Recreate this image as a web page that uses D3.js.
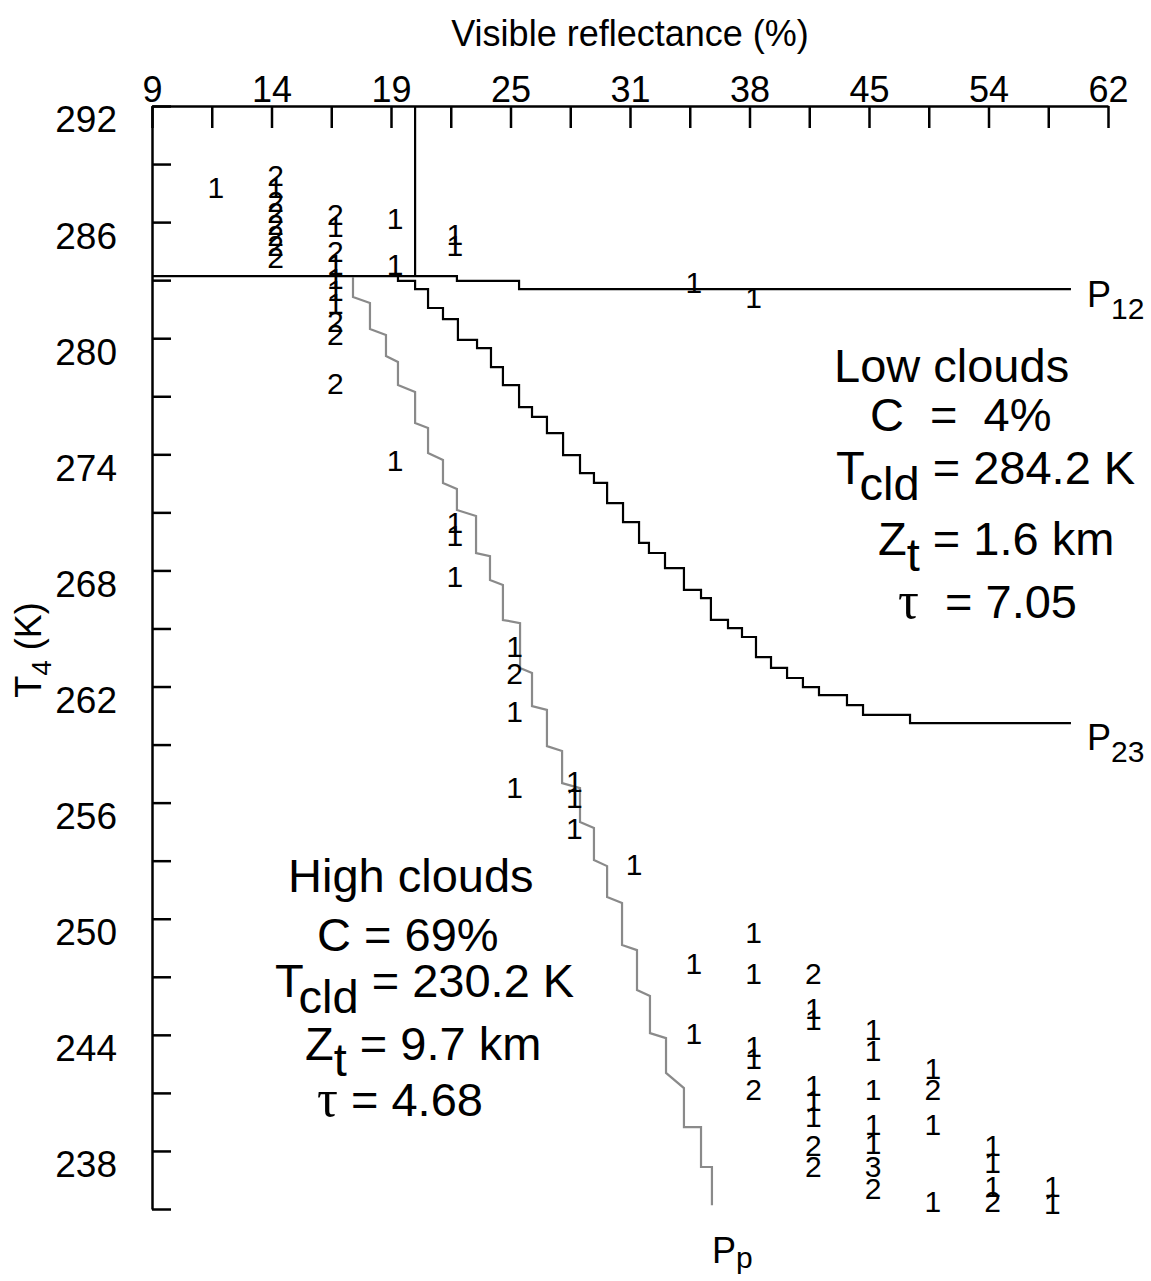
<!DOCTYPE html>
<html><head><meta charset="utf-8">
<script src="https://cdn.jsdelivr.net/npm/d3@7"></script>
<style>
html,body{margin:0;padding:0;background:#fff;}
svg{display:block;font-family:"Liberation Sans",Arial,Helvetica,sans-serif;}
</style></head><body>
<svg id="chart" width="1151" height="1281"></svg>
<script>
// ---- axis ticks ----
const reflTicks = [9, 14, 19, 25, 31, 38, 45, 54, 62];
const reflMinor = [11.5, 16.5, 22, 28, 34.5, 41.5, 49.5, 58];
const tempMajor = [292, 286, 280, 274, 268, 262, 256, 250, 244, 238];
const tempMinor = [289, 283, 277, 271, 265, 259, 253, 247, 241, 235];

// ---- count labels (reflectance %, T4 K, count) ----
const cntRefl = [11.5,
  14,14,14,14,14,14,14,14,
  16.5,16.5,16.5,16.5,16.5,16.5,16.5,16.5,16.5,16.5,
  19,19,19,
  22,22,22,22,22,
  25,25,25,25,
  28,28,28,
  31,
  34.5,34.5,34.5,
  38,38,38,38,38,38,
  41.5,41.5,41.5,41.5,41.5,41.5,41.5,41.5,
  45,45,45,45,45,45,45,
  49.5,49.5,49.5,49.5,
  54,54,54,54,
  58,58];
const cntTemp = [287.8,
  288.4,287.8,287.1,286.5,285.9,285.3,284.8,284.2,
  286.4,285.8,284.5,283.8,283.1,282.5,281.8,280.9,280.2,277.7,
  286.2,283.8,273.7,
  285.4,284.8,270.5,269.8,267.7,
  264.1,262.7,260.7,256.8,
  257.1,256.3,254.7,
  252.8,
  282.9,247.7,244.1,
  282.1,249.3,247.2,243.4,242.8,241.2,
  247.2,245.4,244.8,241.4,240.6,239.8,238.3,237.2,
  244.3,243.2,241.2,239.4,238.4,237.2,236.1,
  242.3,241.2,239.4,235.4,
  238.3,237.4,236.2,235.4,
  236.2,235.3];
const cntLabel = ["1",
  "2","1","2","2","2","2","2","2",
  "2","1","2","1","1","1","1","2","2","2",
  "1","1","1",
  "1","1","1","1","1",
  "1","2","1","1",
  "1","1","1",
  "1",
  "1","1","1",
  "1","1","1","1","1","2",
  "2","1","1","1","1","1","2","2",
  "1","1","1","1","1","3","2",
  "1","2","1","1",
  "1","1","1","2",
  "1","1"];

// ---- threshold lines ----
const divRefl = [20.21, 20.21];
const divTemp = [292, 283.21];

const p12Refl = [9, 22.31, 25.43, 59.52];
const p12Temp = [283.21, 282.96, 282.54, 282.54];

const p23Refl = [19.35,20.21,20.86,21.61,22.36,23.32,24.02,24.62,25.43,26.08,26.83,27.64,28.49,29.19,29.85,30.65,
  31.53,32.11,33.05,34.16,35.16,35.74,36.74,37.56,38.38,39.26,40.20,41.13,42.07,43.71,44.65,48.09,59.52];
const p23Temp = [283.21,282.96,282.54,281.56,280.99,279.91,279.49,278.51,277.58,276.44,275.93,275.10,273.96,273.03,272.52,271.48,
  270.50,269.42,268.90,268.12,266.99,266.57,265.44,265.02,264.56,263.52,262.96,262.44,261.97,261.56,261.04,260.53,260.11];

const ppRefl = [17.41,17.41,18.12,18.12,18.79,18.79,19.35,19.35,20.21,20.21,20.86,20.86,21.61,21.61,22.31,22.31,
  23.27,23.27,23.97,23.97,24.62,24.62,25.48,25.48,26.08,26.08,26.83,26.83,27.59,27.59,28.49,28.49,
  29.19,29.19,29.85,29.85,30.60,30.60,31.41,31.41,32.17,32.17,33.11,33.11,34.16,34.16,35.16,35.16,35.80,35.80];
const ppTemp = [283.16,282.13,281.82,280.48,280.17,279.08,278.77,277.58,277.22,275.62,275.36,274.07,273.71,272.52,272.21,271.12,
  270.81,268.90,268.74,267.50,267.25,265.44,265.28,262.96,262.70,260.99,260.79,258.92,258.67,257.01,256.75,255.00,
  254.69,253.03,252.72,251.12,250.81,248.64,248.38,246.32,246.01,244.09,243.83,242.03,241.25,239.23,239.23,237.17,237.17,235.20];

// ---- layout ----
const W = 1151, H = 1281;
const L = 152, R = 1108, T = 106, B = 1209;
const FONT = '"Liberation Sans", Arial, Helvetica, sans-serif';

const svg = d3.select("#chart");
svg.append("rect").attr("width", W).attr("height", H).attr("fill", "#fff");

const x = d3.scaleLinear()
  .domain(reflTicks)
  .range(reflTicks.map((d, i) => L + i * (R - L) / (reflTicks.length - 1)));
const y = d3.scaleLinear().domain([235, 292]).range([B, T]);

// top axis
const xAxis = d3.axisTop(x)
  .tickValues(reflTicks.concat(reflMinor).sort((a, b) => a - b))
  .tickSizeInner(-22).tickSizeOuter(0).tickPadding(4)
  .tickFormat(d => reflTicks.includes(d) ? d : "");
const gx = svg.append("g").attr("transform", `translate(0,${T})`).call(xAxis);
gx.attr("font-size", null).attr("font-family", null);
gx.selectAll("path,line").attr("stroke", "#000").attr("stroke-width", 2.5);
gx.selectAll("text").attr("font-size", 36).attr("font-family", FONT).attr("fill", "#000");

// left axis
const yAxis = d3.axisLeft(y)
  .tickValues(tempMajor.concat(tempMinor).sort((a, b) => a - b))
  .tickSizeInner(-19).tickSizeOuter(0).tickPadding(35)
  .tickFormat(d => tempMajor.includes(d) ? d : "");
const gy = svg.append("g").attr("transform", `translate(${L},0)`).call(yAxis);
gy.attr("font-size", null).attr("font-family", null);
gy.selectAll("path,line").attr("stroke", "#000").attr("stroke-width", 2.5);
gy.selectAll("text").attr("font-size", 37).attr("font-family", FONT).attr("fill", "#000").attr("dy", "0.7em");

// axis titles
svg.append("text").attr("x", (L + R) / 2).attr("y", 46)
  .attr("text-anchor", "middle").attr("font-size", 36).attr("font-family", FONT)
  .text("Visible reflectance (%)");
const yt = svg.append("text").attr("transform", "translate(41,650) rotate(-90)")
  .attr("text-anchor", "middle").attr("font-size", 36).attr("font-family", FONT);
yt.append("tspan").text("T");
yt.append("tspan").attr("font-size", 28).attr("dy", 10).text("4");
yt.append("tspan").attr("dy", -10).text(" (K)");

// lines
const zip = (a, b) => a.map((v, i) => [v, b[i]]);
const lineLin = d3.line().x(d => x(d[0])).y(d => y(d[1]));
const lineAfter = d3.line().x(d => x(d[0])).y(d => y(d[1])).curve(d3.curveStepAfter);
const lineBefore = d3.line().x(d => x(d[0])).y(d => y(d[1])).curve(d3.curveStepBefore);

svg.append("path").attr("d", lineLin(zip(divRefl, divTemp)))
  .attr("fill", "none").attr("stroke", "#000").attr("stroke-width", 2.2);
svg.append("path").attr("d", lineAfter(zip(p12Refl, p12Temp)))
  .attr("fill", "none").attr("stroke", "#000").attr("stroke-width", 2.2);
svg.append("path").attr("d", lineBefore(zip(p23Refl, p23Temp)))
  .attr("fill", "none").attr("stroke", "#000").attr("stroke-width", 2.2);
svg.append("path").attr("d", lineLin(zip(ppRefl, ppTemp)))
  .attr("fill", "none").attr("stroke", "#8a8a8a").attr("stroke-width", 2.2);

// count labels
svg.append("g").selectAll("text")
  .data(cntLabel.map((s, i) => ({ r: cntRefl[i], t: cntTemp[i], s })))
  .join("text")
  .attr("x", d => x(d.r) + 4).attr("y", d => y(d.t)).attr("dy", "0.36em")
  .attr("text-anchor", "middle").attr("font-size", 30).attr("font-family", FONT)
  .text(d => d.s);

// line labels
function pLabel(px, py, sub, subSize, subDy) {
  const t = svg.append("text").attr("x", px).attr("y", py).attr("font-size", 36).attr("font-family", FONT);
  t.append("tspan").text("P");
  t.append("tspan").attr("font-size", subSize).attr("dy", subDy).text(sub);
}
pLabel(1087, 307, "12", 30, 12);
pLabel(1087, 750, "23", 30, 12);
pLabel(712, 1263, "p", 30, 5);

// annotation blocks
function ann(px, py, parts) {
  const t = svg.append("text").attr("x", px).attr("y", py).attr("font-size", 47).attr("font-family", FONT)
    .attr("xml:space", "preserve").style("white-space", "pre");
  parts.forEach(p => {
    const s = t.append("tspan").text(p.t);
    if (p.dy) s.attr("dy", p.dy);
    if (p.serif) s.attr("font-family", '"Liberation Serif", "DejaVu Serif", serif').attr("font-size", 52);
  });
}
ann(834, 382, [{ t: "Low clouds" }]);
ann(870, 431, [{ t: "C  =  4%" }]);
ann(836, 484, [{ t: "T" }, { t: "cld", dy: 16 }, { t: " = 284.2 K", dy: -16 }]);
ann(878, 555, [{ t: "Z" }, { t: "t", dy: 16 }, { t: " = 1.6 km", dy: -16 }]);
ann(898, 618, [{ t: "\u03C4", serif: true }, { t: "  = 7.05" }]);

ann(288, 892, [{ t: "High clouds" }]);
ann(317, 951, [{ t: "C = 69%" }]);
ann(275, 997, [{ t: "T" }, { t: "cld", dy: 16 }, { t: " = 230.2 K", dy: -16 }]);
ann(305, 1060, [{ t: "Z" }, { t: "t", dy: 16 }, { t: " = 9.7 km", dy: -16 }]);
ann(317, 1116, [{ t: "\u03C4", serif: true }, { t: " = 4.68" }]);
</script>
</body></html>
